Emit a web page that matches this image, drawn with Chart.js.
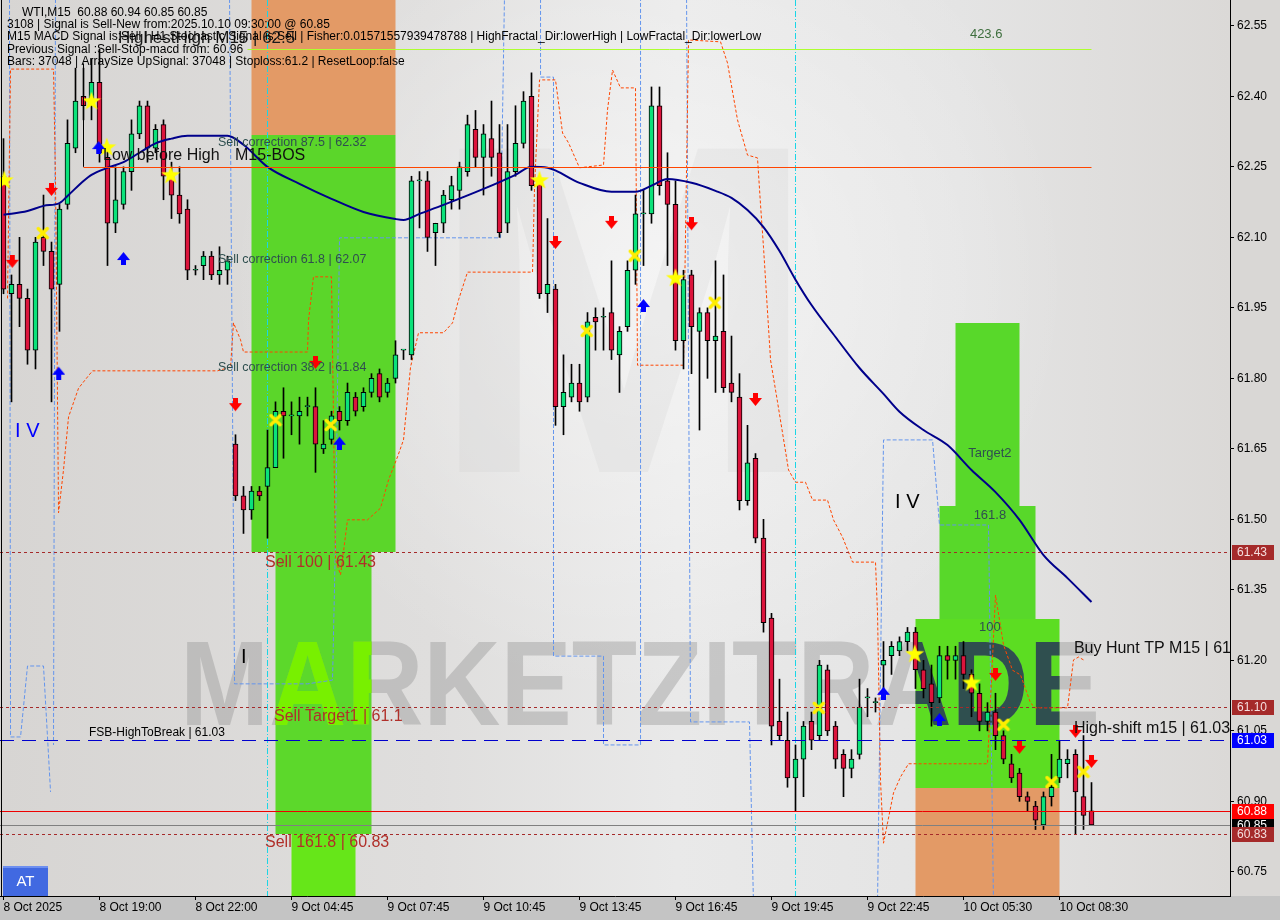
<!DOCTYPE html>
<html>
<head>
<meta charset="utf-8">
<title>WTI M15</title>
<script src="https://cdn.jsdelivr.net/npm/chart.js@4.4.1/dist/chart.umd.min.js"></script>
<style>
  html, body { margin: 0; padding: 0; background: #c4c4c4; }
  #wrap { width: 1280px; height: 920px; }
</style>
</head>
<body>
<div id="wrap"><canvas id="wtiChart" width="1280" height="920"></canvas></div>
<script>
// WTI, M15 - bars from 8 Oct 16:00 to 10 Oct 09:30
const opens = [62.23,61.98,62.00,61.97,61.86,62.10,62.07,62.00,62.17,62.29,
  62.40,62.39,62.43,62.27,62.13,62.17,62.24,62.32,62.38,62.29,
  62.34,62.23,62.19,62.16,62.03,62.04,62.06,62.02,62.03,61.66,
  61.55,61.52,61.56,61.57,61.61,61.73,61.72,61.72,61.74,61.74,
  61.65,61.67,61.73,61.71,61.76,61.74,61.77,61.81,61.77,61.80,
  61.86,61.85,62.22,62.22,62.11,62.13,62.18,62.20,62.24,62.33,
  62.27,62.31,62.28,62.13,62.24,62.30,62.40,62.22,61.98,61.99,
  61.74,61.76,61.79,61.76,61.93,61.93,61.94,61.85,61.91,62.03,
  62.15,62.15,62.38,62.22,62.17,61.88,62.02,61.90,61.94,61.88,
  61.90,61.79,61.76,61.54,61.63,61.46,61.29,61.07,61.03,60.95,
  60.99,61.07,61.04,61.18,61.06,61.00,60.97,61.00,61.12,61.11,
  61.19,61.21,61.22,61.24,61.26,61.18,61.15,61.12,61.21,61.20,
  61.21,61.17,61.13,61.07,61.09,61.04,60.98,60.96,60.91,60.89,
  60.85,60.91,60.95,60.98,61.00,60.91,60.88];
const highs = [62.31,62.02,62.10,61.99,62.10,62.19,62.09,62.17,62.35,62.46,
  62.46,62.48,62.50,62.29,62.25,62.25,62.35,62.39,62.39,62.34,
  62.35,62.26,62.25,62.18,62.04,62.07,62.07,62.08,62.06,61.68,
  61.57,61.57,61.57,61.69,61.75,61.78,61.75,61.76,61.76,61.78,
  61.71,61.73,61.74,61.79,61.77,61.78,61.81,61.82,61.80,61.88,
  61.86,62.23,62.24,62.24,62.13,62.20,62.23,62.26,62.36,62.37,
  62.34,62.39,62.34,62.34,62.38,62.41,62.45,62.23,62.14,62.00,
  61.85,61.83,61.83,61.94,61.95,61.95,62.05,61.91,62.05,62.19,
  62.20,62.42,62.42,62.28,62.22,62.03,62.03,61.95,61.95,62.05,
  62.02,61.89,61.81,61.70,61.64,61.50,61.30,61.16,61.09,61.02,
  61.07,61.09,61.20,61.19,61.07,61.01,61.01,61.16,61.14,61.12,
  61.24,61.24,61.25,61.27,61.27,61.20,61.19,61.23,61.23,61.23,
  61.24,61.18,61.15,61.11,61.13,61.05,61.00,60.97,60.92,60.90,
  60.92,61.00,61.03,61.01,61.01,61.04,60.94];
const lows = [61.98,61.75,61.91,61.83,61.82,62.04,61.75,61.90,62.16,62.28,
  62.35,62.35,62.26,62.04,62.11,62.16,62.20,62.31,62.26,62.28,
  62.18,62.14,62.13,62.01,62.02,62.01,62.01,62.00,62.00,61.54,
  61.47,61.50,61.54,61.46,61.61,61.63,61.68,61.66,61.72,61.60,
  61.64,61.66,61.69,61.70,61.72,61.73,61.76,61.75,61.76,61.79,
  61.84,61.84,62.12,62.07,62.04,62.11,62.16,62.16,62.23,62.25,
  62.19,62.23,62.10,62.11,62.23,62.29,62.20,61.97,61.94,61.70,
  61.68,61.75,61.73,61.75,61.86,61.86,61.84,61.77,61.90,62.00,
  62.04,62.13,62.19,62.04,61.86,61.82,61.81,61.69,61.80,61.77,
  61.77,61.75,61.52,61.53,61.45,61.26,61.02,61.03,60.93,60.88,
  60.91,61.01,61.03,61.04,60.97,60.91,60.95,60.99,61.08,61.09,
  61.12,61.17,61.21,61.22,61.14,61.12,61.06,61.11,61.16,61.16,
  61.14,61.08,61.05,61.05,61.01,60.98,60.94,60.90,60.88,60.84,
  60.84,60.89,60.94,60.95,60.83,60.84,60.85];
const closes = [61.99,62.00,61.97,61.86,62.09,62.07,61.99,62.16,62.30,62.39,
  62.38,62.43,62.28,62.13,62.18,62.24,62.32,62.38,62.29,62.33,
  62.23,62.19,62.15,62.03,62.03,62.06,62.02,62.03,62.05,61.55,
  61.52,61.56,61.55,61.61,61.73,61.72,61.72,61.73,61.74,61.66,
  61.66,61.72,61.71,61.77,61.73,61.77,61.80,61.76,61.79,61.85,
  61.86,62.22,62.22,62.10,62.13,62.19,62.21,62.25,62.34,62.27,
  62.32,62.27,62.11,62.24,62.30,62.39,62.21,61.98,62.00,61.74,
  61.77,61.79,61.75,61.92,61.92,61.93,61.86,61.90,62.03,62.15,
  62.15,62.38,62.21,62.17,61.88,62.01,61.91,61.94,61.88,61.89,
  61.78,61.77,61.54,61.62,61.46,61.28,61.06,61.04,60.95,60.99,
  61.06,61.03,61.19,61.05,60.99,60.97,60.99,61.10,61.12,61.11,
  61.20,61.23,61.24,61.26,61.18,61.14,61.11,61.21,61.20,61.21,
  61.17,61.13,61.07,61.09,61.04,60.99,60.95,60.91,60.90,60.86,
  60.91,60.93,60.99,60.99,60.92,60.87,60.85];

// moving average, read at selected bars
const maBars = [0,3,5,7,8,10,11,13,15,17,19,21,23,28,30,33,37,41,45,49,50,52,55,60,64,66,68,72,76,79,81,83,86,89,91,93,95,97,99,101,104,107,110,112,115,118,121,124,127,130,133,136];
const maValues = [62.148,62.156,62.167,62.173,62.188,62.22,62.233,62.248,62.26,62.28,62.30,62.31,62.316,62.316,62.297,62.25,62.214,62.182,62.154,62.139,62.137,62.15,62.169,62.203,62.233,62.25,62.248,62.216,62.197,62.197,62.21,62.224,62.216,62.199,62.184,62.158,62.122,62.071,62.01,61.956,61.888,61.822,61.767,61.729,61.69,61.658,61.605,61.558,61.499,61.424,61.375,61.324];

// stepped channel lines (null = break)
const orangeBars = [0.5,0.88,6.25,6.5,6.88,7.5,8.13,9.38,10.5,11.13,26.75,28.38,28.75,29.63,30,38,38.13,38.75,41,41.5,42.13,43,45.5,47.13,48.13,49.25,50,50.88,51.88,55,56.13,56.88,58,66.13,66.38,67,69,69.88,70.63,72,75,75.5,76.13,77.13,79,79.25,85,85.63,89.63,90.5,91.75,93,94.25,94.63,95,95.88,96.75,98.13,99,100.25,101.13,103,103.75,104.88,106.13,109,109.25,109.63,110,111.25,112.13,113.13,123,123.38,124,125,126.13,127.13,128.38,129,133,133.75,134.38,135];
const orangePrices = [61.97,62.458,62.458,62.222,61.514,61.605,61.718,61.779,61.803,61.816,61.816,61.824,61.918,61.882,61.856,61.856,61.924,62.016,62.016,61.414,61.382,61.499,61.499,61.524,61.584,61.633,61.669,61.824,61.897,61.897,61.918,61.967,62.026,62.026,62.207,62.435,62.435,62.322,62.301,62.248,62.254,62.371,62.456,62.418,62.418,61.828,61.828,62.52,62.516,62.471,62.35,62.275,62.269,62.169,62.079,61.839,61.75,61.605,61.579,61.579,61.541,61.541,61.499,61.462,61.409,61.409,61.301,60.943,60.811,60.918,60.952,60.98,60.98,61.116,61.339,61.233,61.179,61.169,61.109,61.099,61.099,61.201,61.207,61.201];
const blueBars = [0.75,0.88,2.13,3,5,5.5,5.88,null,6.5,6.25,null,28.25,28.88,38,41.13,41.5,42,62.13,62.63,null,67.13,67.13,68.75,68.75,75,75,79.63,79.63,null,85.38,85.88,93.25,93.75,null,109.25,110,116.13,116.75,117,123.13,123.75];
const bluePrices = [62.62,61.037,61.037,61.188,61.188,61.037,60.92,null,62.62,61.02,null,62.62,61.15,61.15,61.158,61.456,62.099,62.099,62.62,null,62.62,62.441,62.441,61.209,61.209,61.02,61.02,62.62,null,62.62,61.069,61.069,60.68,null,60.68,61.669,61.669,61.541,61.488,61.488,60.68];

// signal markers
const downArrowBars = [1.1,6,29,39,69,76,86,94,124,127,134,136];
const downArrowPrices = [62.048,62.201,61.743,61.833,62.088,62.131,62.128,61.754,61.169,61.014,61.048,60.984];
const upArrowBars = [6.9,15,11.9,42,80,110,117];
const upArrowPrices = [61.812,62.056,62.292,61.663,61.956,61.131,61.075];
const starBars = [0.1,11,12.9,20.9,67,84,113.9,121];
const starPrices = [62.222,62.39,62.292,62.233,62.222,62.014,61.214,61.153];
const crossBars = [4.9,34,40.9,72.9,78.9,88.9,101.9,125,131,135];
const crossPrices = [62.109,61.711,61.701,61.901,62.061,61.961,61.099,61.063,60.941,60.963];

// target / correction zones (bar range, price range)
const zoneStart = [31, 31, 34, 36, 119, 117, 114, 114];
const zoneEnd = [49, 49, 46, 44, 127, 129, 132, 132];
const zoneTop = [62.62, 62.318, 61.43, 60.83, 61.918, 61.528, 61.288, 60.929];
const zoneBottom = [62.318, 61.43, 60.83, 60.60, 61.528, 61.288, 60.929, 60.60];

// horizontal levels
const levelPrices = [62.25, 62.50, 61.43, 61.10, 60.83, 61.03, 60.88, 60.85];
const levelFrom = [10, 30.5, null, null, null, null, null, null];
const levelTo = [136, 136, null, null, null, null, null, null];
const cycleBars = [33, 99];

// axis
const tickBars = [0, 12, 24, 36, 48, 60, 72, 84, 96, 108, 120, 132];
const tickLabels = ['8 Oct 2025', '8 Oct 19:00', '8 Oct 22:00', '9 Oct 04:45', '9 Oct 07:45', '9 Oct 10:45',
  '9 Oct 13:45', '9 Oct 16:45', '9 Oct 19:45', '9 Oct 22:45', '10 Oct 05:30', '10 Oct 08:30'];
const priceTicks = [60.75, 60.90, 61.05, 61.20, 61.35, 61.50, 61.65, 61.80, 61.95, 62.10, 62.25, 62.40, 62.55];
const axisMarkPrices = [60.85, 61.43, 61.10, 61.03, 60.88, 60.83];

const infoLines = [
  'WTI,M15  60.88 60.94 60.85 60.85',
  '3108 | Signal is Sell-New from:2025.10.10 09:30:00 @ 60.85',
  'M15 MACD Signal is:Sell | H1 Stochastic Signal is:Sell | Fisher:0.01571557939478788 | HighFractal_Dir:lowerHigh | LowFractal_Dir:lowerLow',
  'Previous Signal :Sell-Stop-macd from: 60.96',
  'Bars: 37048 | ArraySize UpSignal: 37048 | Stoploss:61.2 | ResetLoop:false'
];

const FONT = '"Liberation Sans", Arial, sans-serif';
const X_MIN = -0.4375, X_MAX = X_MIN + 1230 / 8;
const Y_MAX = 62.605, Y_MIN = Y_MAX - 896 / 470;

const zoneColors = ['#e39a66', '#5bd62a', '#5cd82b', '#66e619', '#58d82a', '#58d82a', '#5cdd22', '#e39a66'];
const levelStyles = [
  { color: '#ff4500', dash: [] }, { color: '#adff2f', dash: [] },
  { color: '#a52a2a', dash: [3, 3] }, { color: '#a52a2a', dash: [3, 3] }, { color: '#a52a2a', dash: [3, 3] },
  { color: '#0000cd', dash: [14, 8] }, { color: '#ee0000', dash: [] }, { color: '#808080', dash: [] }
];
const axisMarkFill = ['#000000', '#a52a2a', '#a52a2a', '#0000ff', '#ff0000', '#a52a2a'];
const axisMarkText = ['#ffffff', '#f5dede', '#f5dede', '#ffffff', '#ffffff', '#f5dede'];

const annotations = [
  { text: 'HighestHigh M15 | 62.5', bar: 14.3, price: 62.524, size: 17, color: '#1a1a1a' },
  { text: '423.6', bar: 120.8, price: 62.531, size: 13, color: '#3d6e3d' },
  { text: 'Low before High', bar: 12.44, price: 62.273, size: 16, color: '#111' },
  { text: 'M15-BOS', bar: 28.94, price: 62.273, size: 16, color: '#111' },
  { text: 'Sell correction 87.5 | 62.32', bar: 26.81, price: 62.301, size: 12.5, color: '#2f4f4f' },
  { text: 'Sell correction 61.8 | 62.07', bar: 26.81, price: 62.052, size: 12.5, color: '#2f4f4f' },
  { text: 'Sell correction 38.2 | 61.84', bar: 26.81, price: 61.822, size: 12.5, color: '#2f4f4f' },
  { text: 'I V', bar: 1.44, price: 61.686, size: 20, color: '#0000ff' },
  { text: 'Sell 100 | 61.43', bar: 32.69, price: 61.407, size: 16, color: '#b0302a' },
  { text: 'Sell Target1 | 61.1', bar: 33.81, price: 61.080, size: 16, color: '#b0302a' },
  { text: 'FSB-HighToBreak | 61.03', bar: 10.69, price: 61.047, size: 12, color: '#000' },
  { text: 'Sell 161.8 | 60.83', bar: 32.69, price: 60.812, size: 16, color: '#b0302a' },
  { text: 'I', bar: 29.69, price: 61.207, size: 20, color: '#000' },
  { text: 'I V', bar: 111.44, price: 61.535, size: 20, color: '#000' },
  { text: 'Target2', bar: 123.3, price: 61.641, size: 13, color: '#2f4f4f', align: 'center' },
  { text: '161.8', bar: 123.3, price: 61.509, size: 13, color: '#2f4f4f', align: 'center' },
  { text: '100', bar: 123.3, price: 61.269, size: 13, color: '#2f4f4f', align: 'center' },
  { text: 'Buy Hunt TP M15 | 61.2', bar: 133.8, price: 61.224, size: 16, color: '#111' },
  { text: 'High-shift m15 | 61.03', bar: 133.8, price: 61.054, size: 16, color: '#111' }
];

function makeIcon(w, h, draw) {
  const c = document.createElement('canvas');
  c.width = w; c.height = h;
  draw(c.getContext('2d'));
  return c;
}
const downIcon = makeIcon(13, 14, g => {
  g.fillStyle = '#ff0000';
  g.fillRect(4, 0, 5, 6);
  g.beginPath(); g.moveTo(0, 5); g.lineTo(13, 5); g.lineTo(6.5, 13); g.closePath(); g.fill();
});
const upIcon = makeIcon(13, 14, g => {
  g.fillStyle = '#0000ff';
  g.fillRect(4, 8, 5, 6);
  g.beginPath(); g.moveTo(0, 9); g.lineTo(13, 9); g.lineTo(6.5, 1); g.closePath(); g.fill();
});
const starIcon = makeIcon(20, 20, g => {
  g.fillStyle = '#ffff00';
  g.beginPath();
  for (let k = 0; k < 10; k++) {
    const r = k % 2 === 0 ? 10 : 4;
    const a = -Math.PI / 2 + k * Math.PI / 5;
    g.lineTo(10 + r * Math.cos(a), 10.5 + r * Math.sin(a));
  }
  g.closePath(); g.fill();
});
const crossIcon = makeIcon(14, 14, g => {
  g.strokeStyle = '#ffee00'; g.lineWidth = 3.5; g.lineCap = 'round';
  g.beginPath(); g.moveTo(2.5, 2.5); g.lineTo(11.5, 11.5); g.moveTo(11.5, 2.5); g.lineTo(2.5, 11.5); g.stroke();
});

function points(xs, ys) {
  const out = [];
  let last = 0;
  xs.forEach((x, i) => {
    if (x === null) out.push({ x: last, y: null });
    else { out.push({ x: x, y: ys[i] }); last = x; }
  });
  return out;
}

const barIdx = opens.map((o, i) => i);
const wickData = barIdx.map(i => ({ x: i, y: [lows[i], highs[i]] }));
const bodyData = barIdx.map(i => ({ x: i, y: [opens[i], closes[i]] }));
const bodyColors = barIdx.map(i => closes[i] >= opens[i] ? '#0be27a' : '#dc143c');

function drawWatermark(ctx, a, fill) {
  ctx.save();
  ctx.font = 'bold 120px ' + FONT;
  const w = ctx.measureText('MARKETZITRADE').width;
  ctx.translate(a.left + 180, a.top + 725);
  ctx.scale(920 / w, 1);
  ctx.fillStyle = fill;
  ctx.textBaseline = 'alphabetic';
  ctx.fillText('MARKETZITRADE', 0, 0);
  ctx.restore();
}

function noPad(s) {
  s.paddingTop = 0; s.paddingBottom = 0; s.paddingLeft = 0; s.paddingRight = 0;
}

const overlays = {
  id: 'overlays',
  beforeDraw(chart) {
    const { ctx, chartArea: a } = chart;
    ctx.save();
    ctx.fillStyle = '#c4c4c4';
    ctx.fillRect(0, 0, chart.width, chart.height);
    ctx.fillStyle = '#d9d7d5';
    ctx.fillRect(0, 0, chart.width, a.bottom);
    const g = ctx.createLinearGradient(a.left, 0, a.right, 0);
    g.addColorStop(0, '#d7d5d3');
    g.addColorStop(0.35, '#dfdedd');
    g.addColorStop(0.55, '#e9e9e9');
    g.addColorStop(0.78, '#e4e4e4');
    g.addColorStop(1, '#dbd9d7');
    ctx.fillStyle = g;
    ctx.fillRect(a.left, a.top, a.width, a.height);
    const r = ctx.createRadialGradient(650, 280, 20, 650, 280, 420);
    r.addColorStop(0, 'rgba(255,255,255,0.5)');
    r.addColorStop(1, 'rgba(255,255,255,0)');
    ctx.fillStyle = r;
    ctx.fillRect(a.left, a.top, a.width, a.height);
    ctx.restore();
  },
  beforeDatasetsDraw(chart) {
    const { ctx, chartArea: a, scales: { x, y } } = chart;
    ctx.save();
    ctx.beginPath(); ctx.rect(a.left, a.top, a.width, a.height); ctx.clip();
    // faint logo
    ctx.font = 'bold 470px ' + FONT;
    ctx.fillStyle = 'rgba(190,190,190,0.16)';
    ctx.fillText('M', a.left + 428, a.top + 472);
    // zones
    const rects = zoneStart.map((s, i) => {
      const x0 = x.getPixelForValue(s), x1 = x.getPixelForValue(zoneEnd[i]);
      const y0 = Math.round(y.getPixelForValue(zoneTop[i])), y1 = Math.round(y.getPixelForValue(zoneBottom[i]));
      return [x0, y0, x1 - x0, y1 - y0];
    });
    rects.forEach((rc, i) => { ctx.fillStyle = zoneColors[i]; ctx.fillRect(rc[0], rc[1], rc[2], rc[3]); });
    // watermark
    drawWatermark(ctx, a, 'rgba(150,150,150,0.42)');
    ctx.save(); ctx.beginPath(); ctx.rect(...rects[6]); ctx.clip();
    drawWatermark(ctx, a, '#2f4f4f'); ctx.restore();
    ctx.save(); ctx.beginPath(); ctx.rect(...rects[2]); ctx.clip();
    drawWatermark(ctx, a, '#78f000'); ctx.restore();
    // cycle lines
    ctx.strokeStyle = '#1ad6e6'; ctx.lineWidth = 1; ctx.setLineDash([6, 2, 1, 2]);
    cycleBars.forEach(b => {
      const px = x.getPixelForValue(b);
      ctx.beginPath(); ctx.moveTo(px, a.top); ctx.lineTo(px, a.bottom); ctx.stroke();
    });
    ctx.restore();
  },
  afterDatasetsDraw(chart) {
    const { ctx, chartArea: a, scales: { x, y } } = chart;
    ctx.save();
    ctx.beginPath(); ctx.rect(a.left, a.top, a.width, a.height); ctx.clip();
    levelPrices.forEach((p, i) => {
      const py = Math.round(y.getPixelForValue(p)) + 0.5;
      const x0 = levelFrom[i] === null ? a.left : x.getPixelForValue(levelFrom[i]);
      const x1 = levelTo[i] === null ? a.right : x.getPixelForValue(levelTo[i]);
      ctx.strokeStyle = levelStyles[i].color; ctx.lineWidth = 1; ctx.setLineDash(levelStyles[i].dash);
      ctx.beginPath(); ctx.moveTo(x0, py); ctx.lineTo(x1, py); ctx.stroke();
    });
    ctx.setLineDash([]);
    ctx.strokeStyle = '#000';
    const bx = x.getPixelForValue(10);
    ctx.beginPath(); ctx.moveTo(bx, y.getPixelForValue(62.47)); ctx.lineTo(bx, y.getPixelForValue(62.25)); ctx.stroke();
    // text objects
    ctx.textBaseline = 'middle';
    annotations.forEach(t => {
      ctx.font = t.size + 'px ' + FONT;
      ctx.fillStyle = t.color;
      ctx.textAlign = t.align || 'left';
      ctx.fillText(t.text, x.getPixelForValue(t.bar), y.getPixelForValue(t.price));
    });
    // info block
    ctx.font = '12px ' + FONT;
    ctx.fillStyle = '#000';
    ctx.textAlign = 'left';
    infoLines.forEach((s, i) => {
      ctx.fillText(s, a.left + (i === 0 ? 22 : 7), a.top + [13, 25, 37, 50, 62][i]);
    });
    // AT button
    ctx.fillStyle = '#4169e1';
    ctx.fillRect(a.left + 3, a.bottom - 30, 45, 30);
    ctx.fillStyle = '#6d8ff0';
    ctx.fillRect(a.left + 3, a.bottom - 30, 45, 2);
    ctx.fillStyle = '#fff';
    ctx.font = '15px ' + FONT;
    ctx.textAlign = 'center';
    ctx.fillText('AT', a.left + 25.5, a.bottom - 14);
    ctx.restore();
  },
  afterDraw(chart) {
    const { ctx, chartArea: a, scales: { y } } = chart;
    ctx.save();
    ctx.font = '12px ' + FONT;
    ctx.textBaseline = 'middle';
    ctx.textAlign = 'left';
    axisMarkPrices.forEach((p, i) => {
      const py = Math.round(y.getPixelForValue(p));
      ctx.fillStyle = axisMarkFill[i];
      ctx.fillRect(a.right + 2, py - 7, 42, 15);
      ctx.fillStyle = axisMarkText[i];
      ctx.fillText(p.toFixed(2), a.right + 7, py + 1);
    });
    ctx.strokeStyle = '#000'; ctx.lineWidth = 1;
    ctx.beginPath(); ctx.moveTo(a.left + 1.5, a.top); ctx.lineTo(a.left + 1.5, a.bottom); ctx.stroke();
    ctx.restore();
  }
};

new Chart(document.getElementById('wtiChart'), {
  type: 'bar',
  data: {
    datasets: [
      { type: 'line', data: points(orangeBars, orangePrices), borderColor: '#ff4500', borderWidth: 1, borderDash: [3, 2], pointRadius: 0, tension: 0, order: 5 },
      { type: 'line', data: points(blueBars, bluePrices), borderColor: '#6495ed', borderWidth: 1, borderDash: [4, 2], pointRadius: 0, tension: 0, spanGaps: false, order: 5 },
      { type: 'bar', data: wickData, backgroundColor: '#000', borderWidth: 0, barThickness: 1, grouped: false, order: 3 },
      { type: 'bar', data: bodyData, backgroundColor: bodyColors, borderColor: '#000', borderWidth: 1, borderSkipped: false,
        barThickness: 5, minBarLength: 1, grouped: false, order: 2 },
      { type: 'line', data: points(maBars, maValues), borderColor: '#00008b', borderWidth: 2, pointRadius: 0,
        cubicInterpolationMode: 'monotone', order: 1 },
      { type: 'scatter', data: points(downArrowBars, downArrowPrices), pointStyle: downIcon, pointRadius: 6, order: 0 },
      { type: 'scatter', data: points(upArrowBars, upArrowPrices), pointStyle: upIcon, pointRadius: 6, order: 0 },
      { type: 'scatter', data: points(starBars, starPrices), pointStyle: starIcon, pointRadius: 6, order: 0 },
      { type: 'scatter', data: points(crossBars, crossPrices), pointStyle: crossIcon, pointRadius: 6, order: 0 }
    ]
  },
  options: {
    responsive: false,
    animation: false,
    devicePixelRatio: 1,
    layout: { padding: 0, autoPadding: false },
    events: [],
    plugins: { legend: { display: false }, tooltip: { enabled: false } },
    scales: {
      x: {
        type: 'linear', position: 'bottom', min: X_MIN, max: X_MAX, offset: false, bounds: 'data',
        afterBuildTicks: s => { s.ticks = tickBars.map(v => ({ value: v })); },
        afterFit: s => { s.height = 24; noPad(s); },
        grid: { drawOnChartArea: false, drawTicks: true, tickLength: 4, color: '#000', offset: false },
        border: { display: true, color: '#000', width: 1 },
        ticks: { autoSkip: false, maxRotation: 0, align: 'start', padding: 0, color: '#000',
          font: { family: FONT, size: 12 }, callback: v => tickLabels[tickBars.indexOf(v)] }
      },
      y: {
        type: 'linear', position: 'right', min: Y_MIN, max: Y_MAX, bounds: 'data',
        afterBuildTicks: s => { s.ticks = priceTicks.map(v => ({ value: v })); },
        afterFit: s => { s.width = 50; noPad(s); },
        grid: { drawOnChartArea: false, drawTicks: true, tickLength: 4, color: '#000' },
        border: { display: true, color: '#000', width: 1 },
        ticks: { padding: 3, color: '#000', font: { family: FONT, size: 12 }, callback: v => v.toFixed(2) }
      }
    }
  },
  plugins: [overlays]
});
</script>
</body>
</html>
